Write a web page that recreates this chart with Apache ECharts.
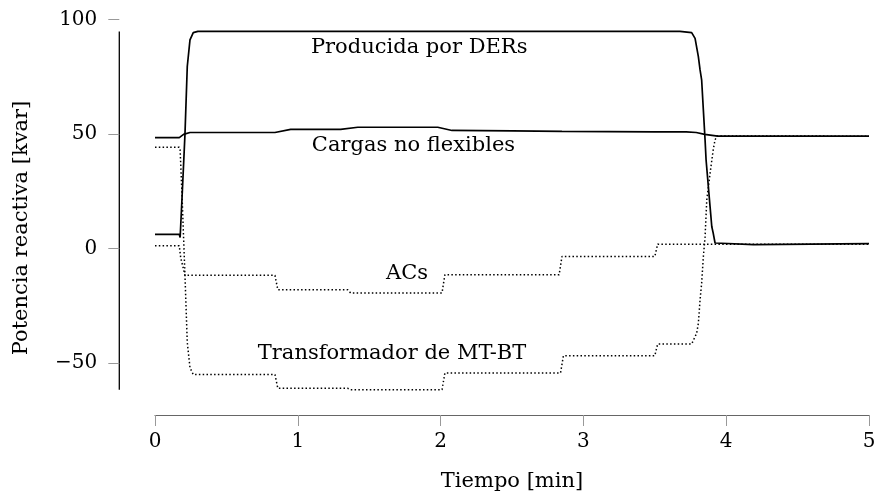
<!DOCTYPE html>
<html>
<head>
<meta charset="utf-8">
<script src="https://cdn.jsdelivr.net/npm/echarts@6/dist/echarts.min.js"></script>
</head>
<body style="margin:0">
<div id="main" style="width:879px;height:498px"></div>
<script>
// Producida por DERs
var dersT = [0, 0.17, 0.176, 0.19, 0.21, 0.226, 0.245, 0.268, 0.3, 1.0, 2.0, 3.0, 3.676, 3.758, 3.782, 3.805, 3.817, 3.828, 3.84, 3.852, 3.859, 3.875, 3.887, 3.899, 3.909, 3.922, 3.936, 4.19, 4.2, 5];
var dersV = [6.2, 6.2, 4.8, 23, 50, 79.4, 91, 94.2, 94.7, 94.7, 94.7, 94.7, 94.7, 94.2, 91.7, 83.7, 77.9, 73.6, 60.5, 47.4, 38.7, 27, 18.3, 9.6, 6.7, 2.4, 1.7, 1.7, 2.1, 2.1];
// Cargas no flexibles
var cargasT = [0, 0.17, 0.2, 0.245, 0.84, 0.95, 1.3, 1.42, 1.98, 2.08, 2.5, 2.85, 3.5, 3.72, 3.79, 3.85, 3.94, 5];
var cargasV = [48.4, 48.4, 49.8, 50.6, 50.6, 52.0, 52.0, 52.9, 52.9, 51.5, 51.3, 51.1, 50.9, 50.9, 50.6, 49.8, 49.0, 49.0];
// ACs
var acsT = [0, 0.17, 0.18, 0.21, 0.84, 0.86, 1.35, 1.37, 2.01, 2.03, 2.83, 2.85, 3.5, 3.52, 5];
var acsV = [1.2, 1.2, -4, -11.7, -11.7, -18, -18, -19.4, -19.4, -11.5, -11.5, -3.5, -3.5, 1.9, 1.9];
// Transformador de MT-BT
var trafoT = [0, 0.17, 0.176, 0.19, 0.21, 0.226, 0.245, 0.268, 0.3, 0.84, 0.86, 1.35, 1.37, 2.01, 2.03, 2.84, 2.86, 3.5, 3.52, 3.758, 3.793, 3.805, 3.817, 3.828, 3.84, 3.852, 3.864, 3.887, 3.909, 3.922, 3.936, 5];
var trafoV = [44.2, 44.2, 43, 22, -12, -41, -52, -55, -55, -55, -61, -61, -61.6, -61.6, -54.3, -54.3, -46.8, -46.8, -41.7, -41.7, -37, -32.6, -22.4, -15.2, -3.6, 5, 21.2, 32.8, 43, 47.4, 49.1, 49];

var xTicks = [0, 1, 2, 3, 4, 5];
var yTicks = [-50, 0, 50, 100];

// text labels placed in data coordinates
var labelNames = ['Producida por DERs', 'Cargas no flexibles', 'ACs', 'Transformador de MT-BT'];
var labelT = [1.85, 1.81, 1.765, 1.66];
var labelV = [87.7, 44.9, -10.9, -45.8];

var serif = 'DejaVu Serif';

function pairs(t, v) {
    return t.map(function (x, i) { return [x, v[i]]; });
}

var chart = echarts.init(document.getElementById('main'));

function lineSeries(name, t, v, dotted) {
    return {
        name: name,
        type: 'line',
        data: pairs(t, v),
        showSymbol: false,
        animation: false,
        lineStyle: {
            color: '#000',
            width: dotted ? 1.5 : 1.7,
            type: dotted ? [1.5, 2.3] : 'solid'
        }
    };
}

chart.setOption({
    animation: false,
    grid: { left: 155, right: 10, top: 19.3, bottom: 107.4 },
    xAxis: {
        type: 'value',
        min: 0, max: 5, interval: 1,
        offset: 24.4,
        axisLine: { show: true, onZero: false, lineStyle: { color: '#666', width: 1.2 } },
        axisTick: { show: true, length: 11, customValues: xTicks, lineStyle: { color: '#999' } },
        splitLine: { show: false },
        axisLabel: { customValues: xTicks, margin: 17, color: '#000', fontFamily: serif, fontSize: 20 },
        name: 'Tiempo [min]',
        nameLocation: 'middle',
        nameGap: 56,
        nameTextStyle: { color: '#000', fontFamily: serif, fontSize: 21 }
    },
    yAxis: {
        type: 'value',
        min: -62, max: 100,
        offset: 35.7,
        axisLine: { show: false, onZero: false },
        axisTick: { show: true, length: 11, customValues: yTicks, lineStyle: { color: '#999' } },
        splitLine: { show: false },
        axisLabel: {
            customValues: yTicks,
            margin: 22,
            color: '#000', fontFamily: serif, fontSize: 20,
            formatter: function (v) { return String(v).replace('-', '\u2212'); }
        }
    },
    series: [
        lineSeries('Producida por DERs', dersT, dersV, false),
        lineSeries('Cargas no flexibles', cargasT, cargasV, false),
        lineSeries('ACs', acsT, acsV, true),
        lineSeries('Transformador de MT-BT', trafoT, trafoV, true)
    ]
});

// range-frame y axis line: spans only the data extent
var allV = dersV.concat(cargasV, acsV, trafoV);
var yTop = chart.convertToPixel({ gridIndex: 0 }, [0, Math.max.apply(null, allV)])[1];
var yBot = chart.convertToPixel({ gridIndex: 0 }, [0, Math.min.apply(null, allV)])[1];
var axisX = 155 - 35.7;

var graphics = [{
    type: 'line',
    shape: { x1: axisX, y1: yTop, x2: axisX, y2: yBot },
    style: { stroke: '#000', lineWidth: 1.3 }
}, {
    type: 'text',
    x: 22, y: 228,
    rotation: Math.PI / 2,
    style: {
        text: 'Potencia reactiva [kvar]',
        fill: '#000', font: '21px "DejaVu Serif"',
        align: 'center', verticalAlign: 'middle'
    }
}];
labelNames.forEach(function (n, i) {
    var p = chart.convertToPixel({ gridIndex: 0 }, [labelT[i], labelV[i]]);
    graphics.push({
        type: 'text',
        x: p[0], y: p[1],
        style: {
            text: n, fill: '#000', font: '21px "DejaVu Serif"',
            align: 'center', verticalAlign: 'middle'
        }
    });
});
chart.setOption({ graphic: graphics });
</script>
</body>
</html>
